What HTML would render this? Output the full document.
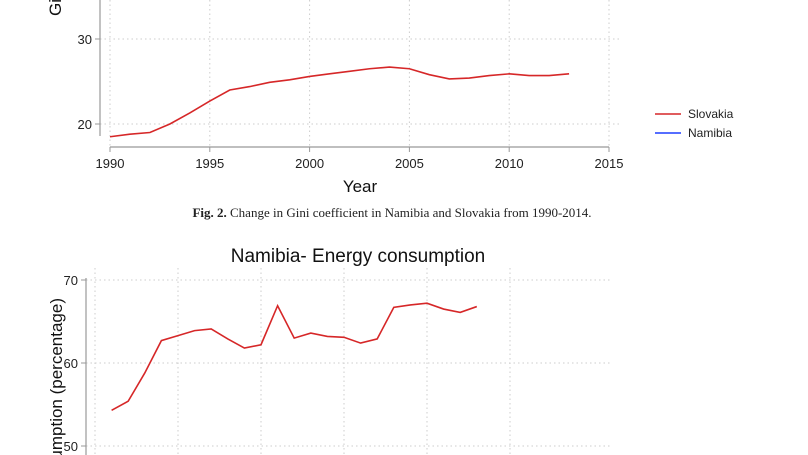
<!DOCTYPE html>
<html><head><meta charset="utf-8"><style>
html,body{margin:0;background:#fff;width:808px;height:455px;overflow:hidden}
svg{display:block;overflow:hidden}
text{font-family:"Liberation Sans",Arial,sans-serif}
text.serif{font-family:"Liberation Serif","DejaVu Serif",serif}
</style></head><body>
<svg id="s" width="808" height="455" viewBox="0 0 808 455">
<g id="top"></g>
<text class="serif" x="392" y="217" text-anchor="middle" font-size="13" fill="#222"><tspan font-weight="bold">Fig. 2.</tspan> Change in Gini coefficient in Namibia and Slovakia from 1990-2014.</text>
<g id="bot"></g>
</svg>
<script>
const giniYears=[1990,1991,1992,1993,1994,1995,1996,1997,1998,1999,2000,2001,2002,2003,2004,2005,2006,2007,2008,2009,2010,2011,2012,2013];
const giniSlovakia=[18.5,18.8,19.0,20.0,21.3,22.7,24.0,24.4,24.9,25.2,25.6,25.9,26.2,26.5,26.7,26.5,25.8,25.3,25.4,25.7,25.9,25.7,25.7,25.9];
const giniXTicks=[1990,1995,2000,2005,2010,2015];
const giniYTicks=[20,30];
const energyYears=[1991,1992,1993,1994,1995,1996,1997,1998,1999,2000,2001,2002,2003,2004,2005,2006,2007,2008,2009,2010,2011,2012,2013];
const energyNamibia=[54.3,55.4,58.8,62.7,63.3,63.9,64.1,62.9,61.8,62.2,66.9,63.0,63.6,63.2,63.1,62.4,62.9,66.7,67.0,67.2,66.5,66.1,66.8];
const energyXTicks=[1990,1995,2000,2005,2010,2015];
const energyYTicks=[50,60,70];
const NS="http://www.w3.org/2000/svg";
function mk(p,t,a,txt){const e=document.createElementNS(NS,t);for(const k in a)e.setAttribute(k,a[k]);if(txt!=null)e.textContent=txt;p.appendChild(e);return e;}
const T=document.getElementById('top');
const tx=y=>110+(y-1990)*19.96, ty=v=>124-(v-20)*8.5;
for(const t of giniXTicks){const g=mk(T,'line',{x1:tx(t),x2:tx(t),y1:0,y2:147,stroke:'#ccc','stroke-dasharray':'1.5 3'});

const tk=mk(T,'line',{x1:tx(t),x2:tx(t),y1:147,y2:152,stroke:'#999'});
const l=mk(T,'text',{x:tx(t),y:168,'text-anchor':'middle','font-size':'13',fill:'#222'},t);}
for(const t of giniYTicks){const g=mk(T,'line',{x1:100,x2:620,y1:ty(t),y2:ty(t),stroke:'#ccc','stroke-dasharray':'1.5 3'});

const tk=mk(T,'line',{x1:95,x2:100,y1:ty(t),y2:ty(t),stroke:'#999'});
const l=mk(T,'text',{x:92,y:ty(t)+5,'text-anchor':'end','font-size':'13',fill:'#222'},t);}
let a=mk(T,'line',{x1:100,x2:100,y1:0,y2:136,stroke:'#999','stroke-width':1.2});
a=mk(T,'line',{x1:110,x2:609,y1:147,y2:147,stroke:'#999','stroke-width':1.2});
a=mk(T,'polyline',{points:giniYears.map((y,i)=>tx(y)+','+ty(giniSlovakia[i])).join(' '),fill:'none',stroke:'#d62728','stroke-width':1.6});
a=mk(T,'text',{x:360,y:192,'text-anchor':'middle','font-size':'17',fill:'#111'},'Year');
a=mk(T,'text',{transform:'translate(61,16) rotate(-90)','font-size':'17',fill:'#111'},'Gini coefficient');
a=mk(T,'line',{x1:655,x2:681,y1:114,y2:114,stroke:'#d62728','stroke-width':1.6});
a=mk(T,'text',{x:688,y:118,'font-size':'12',fill:'#222'},'Slovakia');
a=mk(T,'line',{x1:655,x2:681,y1:133,y2:133,stroke:'#1f3fff','stroke-width':1.6});
a=mk(T,'text',{x:688,y:137,'font-size':'12',fill:'#222'},'Namibia');
const B=document.getElementById('bot');
const bx=y=>95+(y-1990)*16.6, by=v=>363-(v-60)*8.3;
for(const t of energyXTicks){const g=mk(B,'line',{x1:bx(t),x2:bx(t),y1:268,y2:455,stroke:'#ccc','stroke-dasharray':'1.5 3'});}
for(const t of energyYTicks){const g=mk(B,'line',{x1:86,x2:610,y1:by(t),y2:by(t),stroke:'#ccc','stroke-dasharray':'1.5 3'});
const tk=mk(B,'line',{x1:81,x2:86,y1:by(t),y2:by(t),stroke:'#999'});
const l=mk(B,'text',{x:78,y:by(t)+5,'text-anchor':'end','font-size':'13',fill:'#222'},t);}
a=mk(B,'line',{x1:86,x2:86,y1:278,y2:455,stroke:'#999','stroke-width':1.2});
a=mk(B,'polyline',{points:energyYears.map((y,i)=>bx(y)+','+by(energyNamibia[i])).join(' '),fill:'none',stroke:'#d62728','stroke-width':1.6});
a=mk(B,'text',{x:358,y:262,'text-anchor':'middle','font-size':'19',fill:'#111'},'Namibia- Energy consumption');
a=mk(B,'text',{transform:'translate(62,298) rotate(-90)','text-anchor':'end','font-size':'17',fill:'#111'},'Energy consumption (percentage)');
</script>
</body></html>
